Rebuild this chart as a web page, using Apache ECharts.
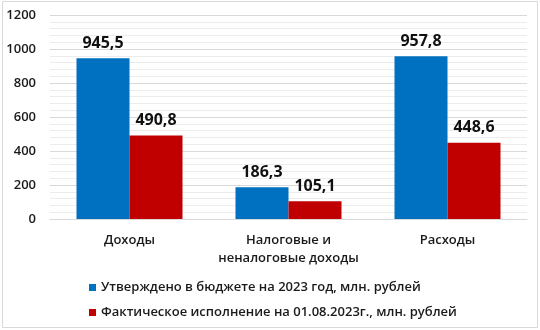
<!DOCTYPE html>
<html>
<head>
<meta charset="utf-8">
<script src="https://cdn.jsdelivr.net/npm/echarts@6/dist/echarts.min.js"></script>
<style>
  html, body { margin: 0; padding: 0; background: #fff; }
  #chart { width: 540px; height: 330px; }
</style>
</head>
<body>
<div id="chart"></div>
<script>
// данные диаграммы
const categories = ['Доходы', 'Налоговые и\nненалоговые доходы', 'Расходы'];
const planned = [945.5, 186.3, 957.8];
const actual = [490.8, 105.1, 448.6];
const seriesNames = [
  'Утверждено в бюджете на 2023 год, млн. рублей',
  'Фактическое исполнение на 01.08.2023г., млн. рублей'
];
const yTicks = { min: 0, max: 1200, interval: 200 };

const font = '"Open Sans", "DejaVu Sans", sans-serif';

function fmt(v) {
  return v.toFixed(1).replace('.', ',');
}

let chart = echarts.init(document.getElementById('chart'));
chart.setOption({
  animation: false,
  textStyle: { fontFamily: font },
  graphic: [{
    type: 'rect',
    shape: { x: 2.5, y: 1.5, width: 535, height: 326 },
    style: { fill: 'none', stroke: '#d9d9d9', lineWidth: 1 }
  }],
  grid: {
    left: 50,
    right: 13,
    top: 15,
    bottom: 111,
    outerBoundsMode: 'none'
  },
  legend: {
    orient: 'vertical',
    left: 84,
    top: 276,
    itemWidth: 7,
    itemHeight: 7,
    itemGap: 12,
    icon: 'rect',
    textStyle: { fontSize: 13, fontWeight: 600, color: '#1a1a1a', fontFamily: font },
    data: seriesNames
  },
  xAxis: {
    type: 'category',
    data: categories,
    axisLine: { lineStyle: { color: '#d9d9d9' } },
    axisTick: { show: false },
    axisLabel: {
      color: '#1a1a1a',
      fontSize: 13,
      fontWeight: 600,
      lineHeight: 18,
      margin: 12,
      interval: 0
    }
  },
  yAxis: {
    type: 'value',
    min: yTicks.min,
    max: yTicks.max,
    interval: yTicks.interval,
    axisLine: { show: false },
    axisTick: { show: false },
    axisLabel: {
      color: '#1a1a1a',
      fontSize: 13,
      margin: 14,
      fontWeight: 600,
      formatter: v => String(v)
    },
    splitLine: { lineStyle: { color: '#d9d9d9' } },
    minorTick: { show: false, splitNumber: 5 },
    minorSplitLine: { show: true, lineStyle: { color: '#ececec' } }
  },
  series: [
    {
      type: 'bar',
      name: seriesNames[0],
      data: planned,
      barWidth: 53,
      barGap: '0%',
      itemStyle: { color: '#0070C0' },
      label: {
        show: true,
        position: 'top',
        distance: 7,
        fontSize: 16,
        fontWeight: 'bold',
        color: '#111',
        formatter: p => fmt(p.value)
      }
    },
    {
      type: 'bar',
      name: seriesNames[1],
      data: actual,
      barWidth: 53,
      barGap: '0%',
      itemStyle: { color: '#C00000' },
      label: {
        show: true,
        position: 'top',
        distance: 7,
        fontSize: 16,
        fontWeight: 'bold',
        color: '#111',
        formatter: p => fmt(p.value)
      }
    }
  ]
});
</script>
</body>
</html>
